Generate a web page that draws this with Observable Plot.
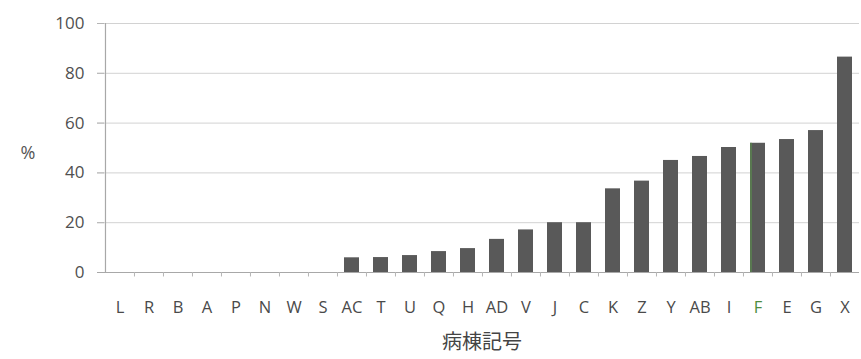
<!DOCTYPE html>
<html>
<head>
<meta charset="utf-8">
<script src="https://cdn.jsdelivr.net/npm/d3@7"></script>
<script src="https://cdn.jsdelivr.net/npm/@observablehq/plot@0.6"></script>
<style>
  html, body { margin: 0; padding: 0; background: #fff; }
  #chart svg { display: block; }
</style>
</head>
<body>
<div id="chart"></div>
<script>
const categories = ["L","R","B","A","P","N","W","S","AC","T","U","Q","H","AD","V","J","C","K","Z","Y","AB","I","F","E","G","X"];
const values = [0,0,0,0,0,0,0,0,5.9,6.0,6.8,8.4,9.6,13.3,17.1,20,20,33.6,36.7,45,46.6,50.2,51.9,53.4,57,86.5];
const yTicks = [0,20,40,60,80,100];
const gridTicks = [20,40,60,80,100];
const xTitle = "病棟記号";
const yTitle = "%";
const highlight = "F";

const data = categories.map((c, i) => ({cat: c, value: values[i]}));

const W = 861, H = 359;
const mL = 104, mR = 2, mT = 23, mB = 87;
const step = (W - mL - mR) / categories.length;

const chart = Plot.plot({
  width: W,
  height: H,
  marginLeft: mL,
  marginRight: mR,
  marginTop: mT,
  marginBottom: mB,
  style: {fontFamily: "'Open Sans', 'Noto Sans CJK JP', sans-serif", background: "#fff"},
  x: {type: "band", domain: categories, paddingInner: 0.5, paddingOuter: 0.25, axis: null},
  y: {domain: [0, 100], axis: null},
  marks: [
    Plot.ruleY(gridTicks, {stroke: "#d2d2d2", strokeWidth: 1, insetLeft: -7}),
    Plot.axisY({ticks: yTicks, tickSize: 7, tickPadding: 13, fontSize: 17, color: "#505050", stroke: "#b5b5b5", label: null}),
    Plot.barY(data, {x: "cat", y: "value", fill: "#595959"}),
    Plot.ruleX([highlight], {x: d => d, dx: -7, y1: 0, y2: values[categories.indexOf(highlight)], stroke: "#5a8f4c", strokeWidth: 1.2}),
    Plot.ruleY([0], {stroke: "#a8a8a8", strokeWidth: 1.2, insetLeft: -7}),
    Plot.ruleX([categories[0]], {x: d => d, dx: -step / 2, y1: 0, y2: 100, stroke: "#a8a8a8", strokeWidth: 1.2}),
    Plot.ruleX(categories.slice(1), {x: d => d, dx: -step / 2, y1: 0, y2: -1.8, stroke: "#b5b5b5"}),
    Plot.text(categories, {x: d => d, y: 0, dy: 35, fontSize: 16.5, fill: d => d === highlight ? "#4e8c3e" : "#4a4a4a"}),
    Plot.text([xTitle], {frameAnchor: "bottom", dy: 76, fontSize: 20, fill: "#444"}),
    Plot.text([yTitle], {frameAnchor: "left", dx: -84, dy: 5, fontSize: 18, fill: "#555"})
  ]
});
document.getElementById("chart").appendChild(chart);
</script>
</body>
</html>
